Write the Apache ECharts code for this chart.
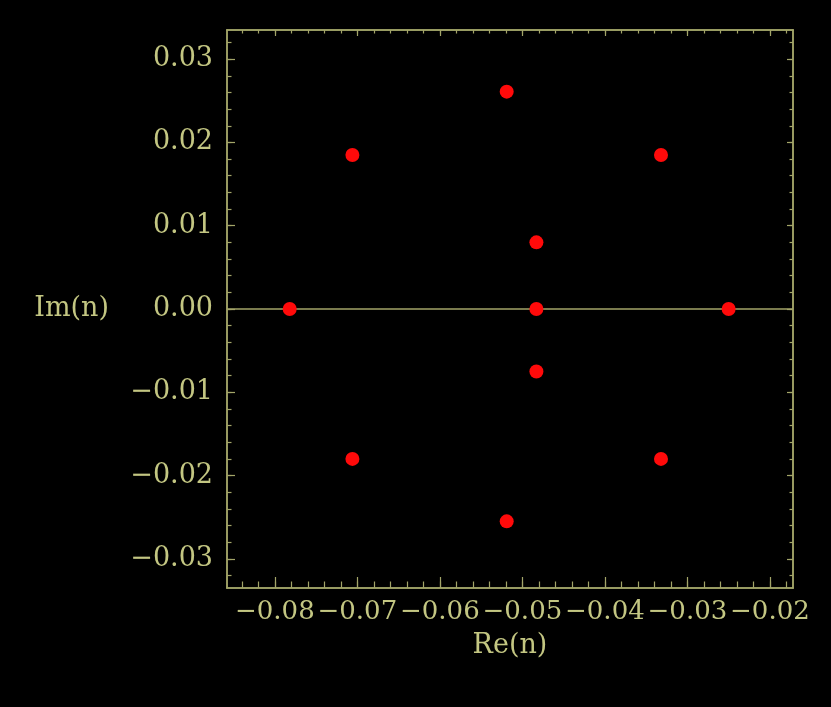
<!DOCTYPE html>
<html>
<head>
<meta charset="utf-8">
<script src="https://cdn.jsdelivr.net/npm/echarts@6/dist/echarts.min.js"></script>
<style>html,body{margin:0;padding:0;background:#000;}#c{width:831px;height:707px;}</style>
</head>
<body>
<div id="c"></div>
<script>
// Data: poles in complex plane (Re, Im)
const reValues = [-0.0782, -0.0706, -0.0706, -0.0519, -0.0519, -0.0483, -0.0483, -0.0483, -0.0332, -0.0332, -0.0250];
const imValues = [0.0000, 0.0185, -0.0180, 0.0261, -0.0255, 0.0080, 0.0000, -0.0075, 0.0185, -0.0180, 0.0000];
const xTickLabels = [-0.08, -0.07, -0.06, -0.05, -0.04, -0.03, -0.02];
const yTickLabels = [-0.03, -0.02, -0.01, 0.00, 0.01, 0.02, 0.03];
const xMin = -0.0858, xMax = -0.0172;
const yMin = -0.0335, yMax = 0.0335;

function minorTicks(lo, hi, step) {
  const out = [];
  const start = Math.ceil(lo / step - 1e-9);
  const end = Math.floor(hi / step + 1e-9);
  for (let i = start; i <= end; i++) out.push(+(i * step).toFixed(6));
  return out;
}
const xMinor = minorTicks(xMin, xMax, 0.002);
const yMinor = minorTicks(yMin, yMax, 0.002);

const lineCol = '#a3a569';
const textCol = '#c3c682';
const font = 'DejaVu Serif';
const fs = 27;
const fmt = v => {
  const s = Math.abs(v).toFixed(2);
  return (v < -1e-9 ? '\u2212' : '') + s;
};

function xAx(pos, custom, len, labels, extra) {
  return Object.assign({
    type: 'value', position: pos, min: xMin, max: xMax, gridIndex: 0,
    axisLine: { show: true, onZero: false, lineStyle: { color: lineCol, width: 1.5 } },
    axisTick: { show: true, inside: true, length: len, customValues: custom, lineStyle: { color: lineCol, width: 1.2 } },
    axisLabel: labels ? { show: true, interval: 0, hideOverlap: false, showMinLabel: true, showMaxLabel: true, customValues: xTickLabels, formatter: fmt, color: textCol, fontFamily: font, fontSize: 26, margin: 11 } : { show: false },
    splitLine: { show: false }
  }, extra || {});
}
function yAx(pos, custom, len, labels, extra) {
  return Object.assign({
    type: 'value', position: pos, min: yMin, max: yMax, gridIndex: 0,
    axisLine: { show: true, onZero: false, lineStyle: { color: lineCol, width: 1.5 } },
    axisTick: { show: true, inside: true, length: len, customValues: custom, lineStyle: { color: lineCol, width: 1.2 } },
    axisLabel: labels ? { show: true, interval: 0, hideOverlap: false, customValues: yTickLabels, formatter: fmt, color: textCol, fontFamily: font, fontSize: fs, margin: 14 } : { show: false },
    splitLine: { show: false }
  }, extra || {});
}

const chart = echarts.init(document.getElementById('c'), null, { renderer: 'canvas' });
chart.setOption({
  backgroundColor: '#000',
  animation: false,
  grid: { left: 227, right: 38, top: 30, bottom: 119, containLabel: false },
  xAxis: [
    xAx('bottom', xTickLabels, 11, true, { name: 'Re(n)', nameLocation: 'middle', nameGap: 44, nameTextStyle: { color: textCol, fontFamily: font, fontSize: fs } }),
    xAx('bottom', xMinor, 6.5, false),
    xAx('top', xTickLabels, 6, false),
    xAx('top', xMinor, 3.5, false)
  ],
  yAxis: [
    yAx('left', yTickLabels, 8, true, { name: 'Im(n)', nameLocation: 'middle', nameRotate: 0, nameGap: 118, nameTextStyle: { color: textCol, fontFamily: font, fontSize: fs, align: 'right', verticalAlign: 'middle' } }),
    yAx('left', yMinor, 4.5, false),
    yAx('right', yTickLabels, 6, false),
    yAx('right', yMinor, 3.5, false)
  ],
  series: [{
    type: 'scatter',
    xAxisIndex: 0, yAxisIndex: 0,
    symbolSize: 14,
    itemStyle: { color: '#ff0a0a', opacity: 1 },
    data: reValues.map((r, i) => [r, imValues[i]]),
    z: 5,
    markLine: {
      silent: true, symbol: 'none', animation: false,
      label: { show: false },
      lineStyle: { color: lineCol, width: 1.5, type: 'solid' },
      data: [{ yAxis: 0 }]
    }
  }]
});
</script>
</body>
</html>
